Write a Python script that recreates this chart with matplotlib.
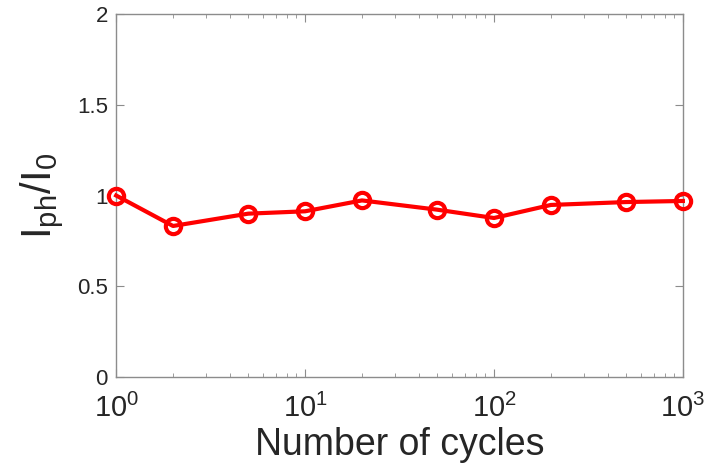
import numpy as np
import matplotlib.pyplot as plt
from matplotlib.ticker import LogLocator, NullFormatter, FuncFormatter

plt.rcParams['font.family'] = ['Liberation Sans', 'DejaVu Sans']
plt.rcParams['mathtext.fontset'] = 'custom'
plt.rcParams['mathtext.rm'] = 'Liberation Sans'
plt.rcParams['mathtext.it'] = 'Liberation Sans'

cycles = [1, 2, 5, 10, 20, 50, 100, 200, 500, 1000]
ratio = [1.0, 0.832, 0.90, 0.913, 0.973, 0.922, 0.876, 0.948, 0.964, 0.970]

fig = plt.figure(figsize=(7.04, 4.74), dpi=100)
ax = fig.add_axes([0.165, 0.205, 0.805, 0.765])

ax.plot(cycles, ratio, color='#ff0000', lw=3, marker='o', ms=11,
        mfc='none', mec='#ff0000', mew=3, clip_on=False, zorder=3)

ax.set_xscale('log')
ax.set_xlim(1, 1000)
ax.set_ylim(0, 2)
ax.set_yticks([0, 0.5, 1, 1.5, 2])
ax.set_yticklabels(['0', '0.5', '1', '1.5', '2'])
ax.xaxis.set_major_formatter(FuncFormatter(
    lambda v, p: r'$\mathregular{10^{%d}}$' % round(np.log10(v))))
ax.xaxis.set_minor_locator(LogLocator(base=10, subs=np.arange(2, 10)))
ax.xaxis.set_minor_formatter(NullFormatter())

edge = '#8c8c8c'
for s in ax.spines.values():
    s.set_color(edge)
    s.set_linewidth(1)
ax.tick_params(which='both', direction='in', top=True, right=True,
               colors=edge, labelcolor='#262626')
ax.tick_params(which='major', length=6)
ax.tick_params(which='minor', length=3)
ax.tick_params(axis='y', labelsize=16, pad=6)
ax.tick_params(axis='x', labelsize=21, pad=12)

ax.set_xlabel('Number of cycles', fontsize=27, color='#262626', labelpad=3)
ax.set_ylabel(r'I$_{\rm ph}$/I$_{\rm 0}$', fontsize=30, color='#262626', labelpad=8)

fig.savefig('out.png', dpi=100)
